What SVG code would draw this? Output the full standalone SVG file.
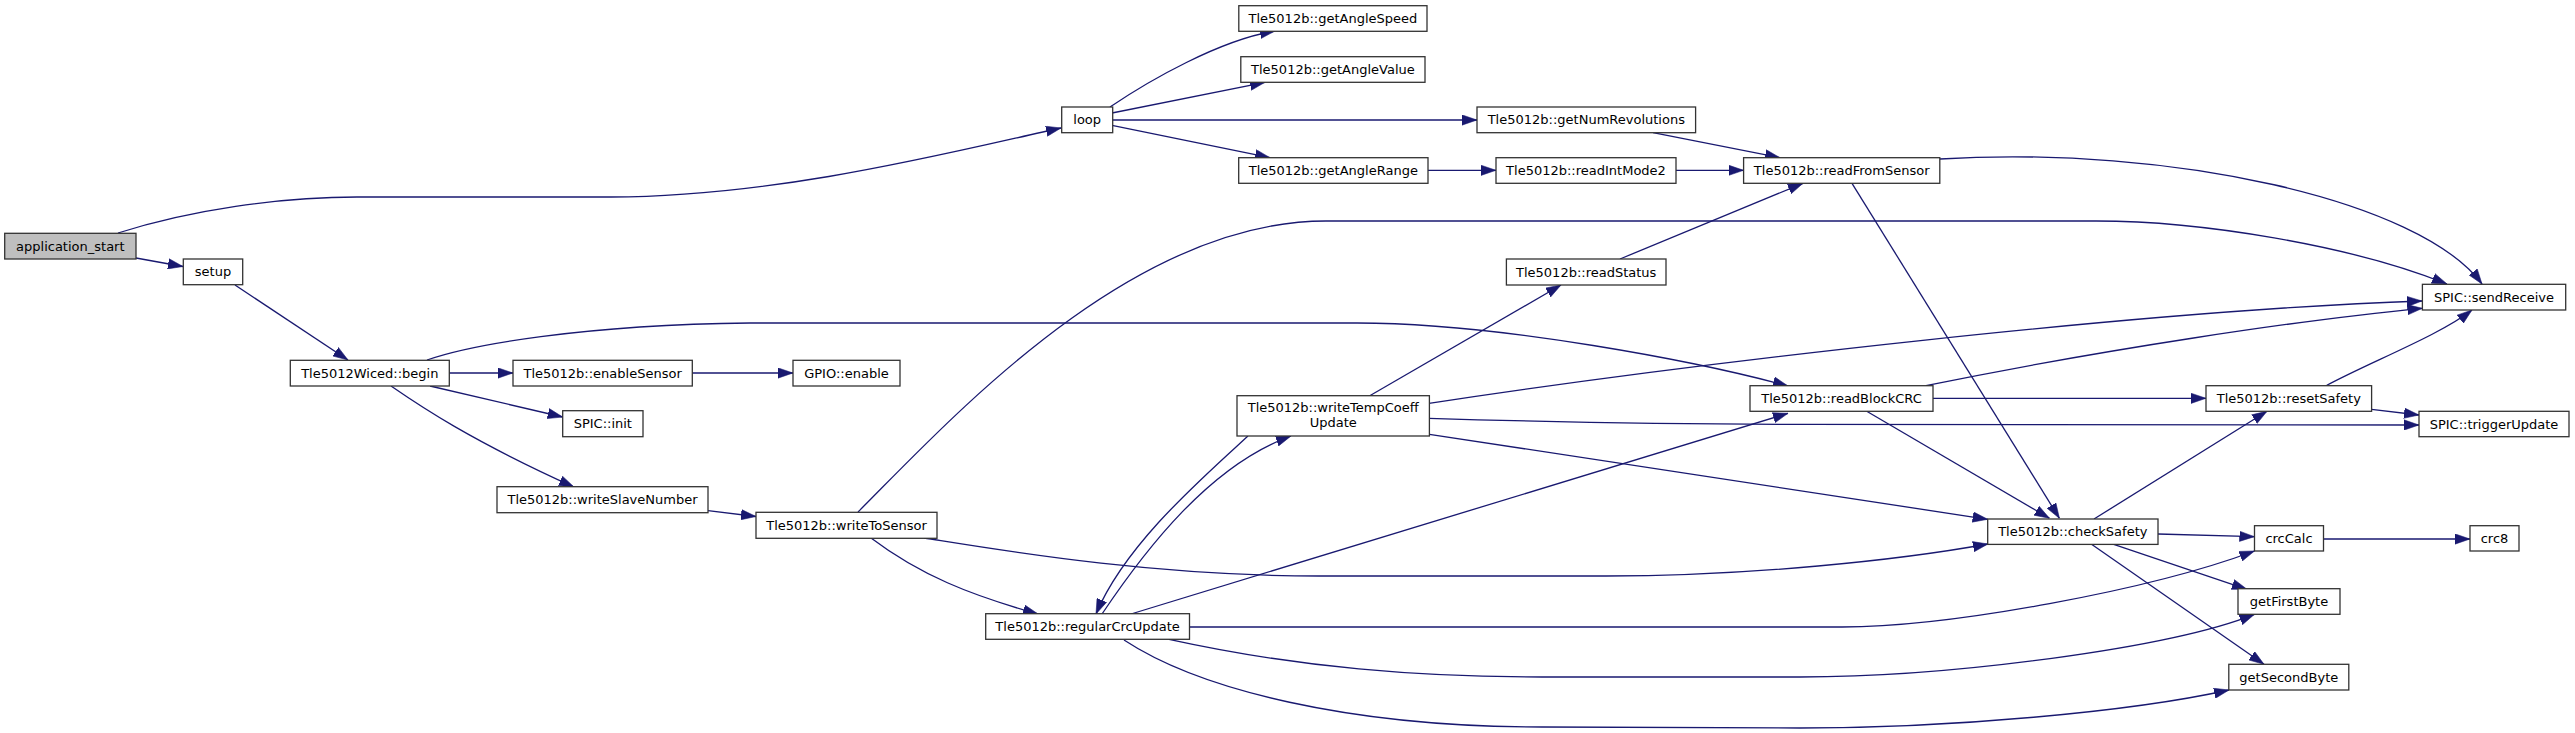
<svg xmlns="http://www.w3.org/2000/svg" width="2575" height="733" viewBox="0 0 2575 733">
<style>
.n rect{fill:#ffffff;stroke:#333333;stroke-width:1.3}
.root rect{fill:#bfbfbf}
text{font-family:"DejaVu Sans","Liberation Sans",sans-serif;font-size:13px;fill:#000;text-anchor:middle}
#edges path{fill:none;stroke:#191970;stroke-width:1.3;marker-end:url(#ah)}
</style>
<defs>
<marker id="ah" markerUnits="userSpaceOnUse" markerWidth="15" markerHeight="11" viewBox="0 0 14 10" refX="14" refY="5" orient="auto">
<path d="M0,0.2 L14,5 L0,9.8 z" fill="#191970" stroke="#191970" stroke-width="0.5"/>
</marker>
</defs>
<rect width="2575" height="733" fill="#ffffff"/>
<g id="edges">
<path d="M118,233 C190,210 280,197 357,197 L611,197 C780,197 960,150 1061,128"/>
<path d="M136,258 L183,266.5"/>
<path d="M235,285 L348,360"/>
<path d="M449,373 L513,373"/>
<path d="M430,386 L562.7,417"/>
<path d="M391,386 C420,406 470,440 574,487"/>
<path d="M427,360 C470,345 580,325 750,323 L1357,323 C1500,323 1700,362 1788,386"/>
<path d="M692,373 L793,373"/>
<path d="M708,510.7 L756,516.5"/>
<path d="M858,512 C950,420 1130,221 1326,221 L2096,221 C2200,221 2350,245 2447,284"/>
<path d="M924,538 C1000,550 1150,576 1319,576 L1606,576 C1750,576 1900,560 1988,544"/>
<path d="M871,538 C920,575 970,595 1038,614"/>
<path d="M1110,107 C1150,80 1220,40 1275,31"/>
<path d="M1112,113 L1265,82.3"/>
<path d="M1112,120 L1477,120"/>
<path d="M1112,125.3 L1270,157.7"/>
<path d="M1428,170.3 L1496,170.3"/>
<path d="M1676,170.3 L1743.6,170.3"/>
<path d="M1653,132.7 L1780,157.7"/>
<path d="M1620,259 L1803,183.3"/>
<path d="M1940,159 C2170,145 2420,200 2482,284"/>
<path d="M1852,183.3 L2059.4,518.3"/>
<path d="M1369.75,395.7 L1561,285"/>
<path d="M1429,403.3 C1700,362 2150,310 2422,301"/>
<path d="M1429,418.3 C1550,422 1700,424.3 1800,424.3 L2419,425"/>
<path d="M1429.4,434.3 L1987.7,519.3"/>
<path d="M1248,436 C1200,480 1125,545 1096,614"/>
<path d="M1102,614 C1145,550 1210,465 1291,436"/>
<path d="M1131,614 L1788,413.3"/>
<path d="M1189.5,627 L1842,627 C1950,627 2150,590 2254.5,551"/>
<path d="M1169,639.3 C1300,668 1420,677 1542,677 L1800,677 C1950,677 2170,648 2254.5,614.3"/>
<path d="M1124,640 C1200,690 1350,727 1542,727 L1800,728 C1950,728 2130,712 2229,690"/>
<path d="M1926,385.7 C2100,350 2300,320 2422.4,308.3"/>
<path d="M1933,398.3 L2206,398.3"/>
<path d="M1866.7,411.3 L2049.5,518.3"/>
<path d="M2326,385.7 C2370,362 2440,335 2472,310"/>
<path d="M2371.6,409.3 L2419,415"/>
<path d="M2094,519 L2267,411.3"/>
<path d="M2158,534 L2254.5,536.7"/>
<path d="M2323.6,539 L2470,539"/>
<path d="M2113.7,544.3 L2247,589.3"/>
<path d="M2091.5,544.3 L2264,664.3"/>
</g>
<g id="n_application_start" class="n root"><rect x="4.7" y="233.3" width="131.3" height="25.7"/><text x="70.3" y="250.6">application_start</text></g>
<g id="n_setup" class="n"><rect x="183.3" y="259" width="59.4" height="25.7"/><text x="213" y="276.3">setup</text></g>
<g id="n_loop" class="n"><rect x="1061.7" y="107" width="51" height="25.7"/><text x="1087.2" y="124.3">loop</text></g>
<g id="n_begin" class="n"><rect x="290.3" y="360.3" width="159" height="25.7"/><text x="369.8" y="377.6">Tle5012Wiced::begin</text></g>
<g id="n_getAngleSpeed" class="n"><rect x="1238.8" y="5.7" width="188.2" height="25.6"/><text x="1332.9" y="23">Tle5012b::getAngleSpeed</text></g>
<g id="n_getAngleValue" class="n"><rect x="1240.8" y="56.7" width="184.2" height="25.6"/><text x="1332.9" y="74">Tle5012b::getAngleValue</text></g>
<g id="n_getNumRevolutions" class="n"><rect x="1477" y="107" width="218.6" height="25.7"/><text x="1586.3" y="124.3">Tle5012b::getNumRevolutions</text></g>
<g id="n_getAngleRange" class="n"><rect x="1238.7" y="157.7" width="189.3" height="25.6"/><text x="1333.3" y="175">Tle5012b::getAngleRange</text></g>
<g id="n_readIntMode2" class="n"><rect x="1496" y="157.7" width="180" height="25.6"/><text x="1586" y="175">Tle5012b::readIntMode2</text></g>
<g id="n_readFromSensor" class="n"><rect x="1743.6" y="157.7" width="196.2" height="25.6"/><text x="1841.7" y="175">Tle5012b::readFromSensor</text></g>
<g id="n_enableSensor" class="n"><rect x="513" y="360.3" width="179.3" height="25.7"/><text x="602.6" y="377.6">Tle5012b::enableSensor</text></g>
<g id="n_gpio_enable" class="n"><rect x="793" y="360.3" width="107" height="25.7"/><text x="846.5" y="377.6">GPIO::enable</text></g>
<g id="n_spic_init" class="n"><rect x="562.7" y="410.7" width="80.3" height="26"/><text x="602.8" y="428.2">SPIC::init</text></g>
<g id="n_writeSlaveNumber" class="n"><rect x="497" y="486.7" width="211" height="26"/><text x="602.5" y="504.2">Tle5012b::writeSlaveNumber</text></g>
<g id="n_writeToSensor" class="n"><rect x="756" y="512.3" width="181" height="26"/><text x="846.5" y="529.8">Tle5012b::writeToSensor</text></g>
<g id="n_regularCrcUpdate" class="n"><rect x="985.7" y="613.7" width="203.8" height="25.6"/><text x="1087.6" y="631">Tle5012b::regularCrcUpdate</text></g>
<g id="n_writeTempCoeffUpdate" class="n"><rect x="1237" y="395.7" width="192.4" height="40.3"/><text x="1333.2" y="411.5">Tle5012b::writeTempCoeff</text><text x="1333.2" y="427">Update</text></g>
<g id="n_readStatus" class="n"><rect x="1506.4" y="259" width="159.6" height="26"/><text x="1586.2" y="276.5">Tle5012b::readStatus</text></g>
<g id="n_readBlockCRC" class="n"><rect x="1750" y="385.7" width="183" height="25.6"/><text x="1841.5" y="403">Tle5012b::readBlockCRC</text></g>
<g id="n_sendReceive" class="n"><rect x="2422.4" y="284.3" width="143.3" height="25.7"/><text x="2494" y="301.6">SPIC::sendReceive</text></g>
<g id="n_resetSafety" class="n"><rect x="2206" y="385.7" width="165.6" height="25.6"/><text x="2288.8" y="403">Tle5012b::resetSafety</text></g>
<g id="n_triggerUpdate" class="n"><rect x="2419" y="411.3" width="150" height="25.4"/><text x="2494" y="428.5">SPIC::triggerUpdate</text></g>
<g id="n_checkSafety" class="n"><rect x="1987.7" y="519" width="170.3" height="25.4"/><text x="2072.8" y="536.2">Tle5012b::checkSafety</text></g>
<g id="n_crcCalc" class="n"><rect x="2254.5" y="525.7" width="69" height="25.3"/><text x="2289" y="542.8">crcCalc</text></g>
<g id="n_crc8" class="n"><rect x="2470" y="525.7" width="49" height="25.3"/><text x="2494.5" y="542.8">crc8</text></g>
<g id="n_getFirstByte" class="n"><rect x="2238" y="588.7" width="102" height="25.6"/><text x="2289" y="606">getFirstByte</text></g>
<g id="n_getSecondByte" class="n"><rect x="2228.8" y="664.3" width="120" height="25.7"/><text x="2288.8" y="681.6">getSecondByte</text></g>
</svg>
